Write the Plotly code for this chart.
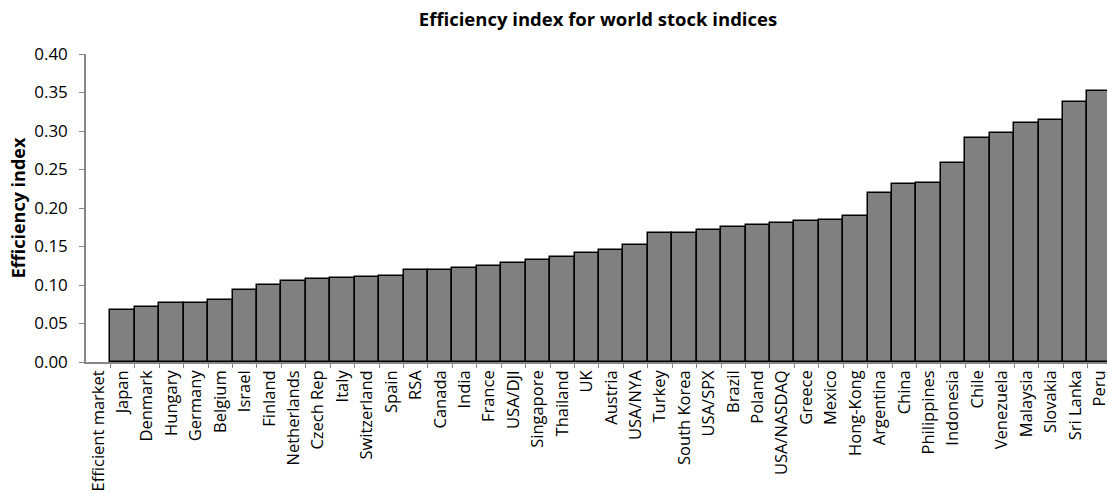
import plotly.graph_objects as go

categories = ["Efficient market", "Japan", "Denmark", "Hungary", "Germany", "Belgium", "Israel",
              "Finland", "Netherlands", "Czech Rep", "Italy", "Switzerland", "Spain", "RSA",
              "Canada", "India", "France", "USA/DJI", "Singapore", "Thailand", "UK", "Austria",
              "USA/NYA", "Turkey", "South Korea", "USA/SPX", "Brazil", "Poland", "USA/NASDAQ",
              "Greece", "Mexico", "Hong-Kong", "Argentina", "China", "Philippines", "Indonesia",
              "Chile", "Venezuela", "Malaysia", "Slovakia", "Sri Lanka", "Peru"]
values = [0.0, 0.067, 0.072, 0.076, 0.076, 0.081, 0.093,
          0.100, 0.105, 0.108, 0.109, 0.110, 0.112, 0.119,
          0.120, 0.122, 0.125, 0.129, 0.132, 0.137, 0.142, 0.145,
          0.152, 0.167, 0.167, 0.171, 0.175, 0.178, 0.181,
          0.183, 0.184, 0.189, 0.220, 0.231, 0.232, 0.258,
          0.291, 0.297, 0.311, 0.314, 0.338, 0.352]
y_ticks = [0.0, 0.05, 0.10, 0.15, 0.20, 0.25, 0.30, 0.35, 0.40]

font_family = "Open Sans, Liberation Sans, sans-serif"

fig = go.Figure(go.Bar(
    x=list(range(len(categories))),
    y=values,
    marker=dict(color="#808080",
                line=dict(color="#000000", width=[0 if v == 0 else 1.5 for v in values])),
    width=1.0,
))

x_range = [-0.5, 41.3]

fig.update_layout(
    width=1110, height=494,
    margin=dict(l=86, r=0, t=54, b=132),
    paper_bgcolor="white", plot_bgcolor="white",
    bargap=0,
    showlegend=False,
    title=dict(text="<b>Efficiency index for world stock indices</b>",
               x=598/1110, xanchor="center", y=1 - 20/494, yanchor="middle",
               font=dict(family=font_family, size=18.5, color="#000000")),
    font=dict(family=font_family, color="#000000"),
)

fig.update_xaxes(
    range=x_range,
    tickmode="array",
    tickvals=list(range(len(categories))),
    ticktext=categories,
    tickangle=-90,
    ticklabeloverflow="allow",
    tickfont=dict(size=16.5, family=font_family, color="#000000"),
    showgrid=False, zeroline=False,
    showline=True, linecolor="#868686", linewidth=1.5,
    ticks="",
)

# boundary ticks for the category axis
fig.update_layout(xaxis2=dict(
    overlaying="x", range=x_range,
    tickmode="array", tickvals=[i - 0.5 for i in range(1, len(categories))],
    showticklabels=False, ticks="outside", ticklen=5, tickcolor="#868686", tickwidth=1,
    showgrid=False, zeroline=False, showline=False, side="bottom", anchor="y",
))
fig.add_trace(go.Scatter(x=[0], y=[0], xaxis="x2", mode="markers",
                         marker=dict(opacity=0), hoverinfo="skip", showlegend=False))

fig.update_yaxes(
    range=[0, 0.4],
    tickmode="array", tickvals=y_ticks,
    ticktext=[f"{v:.2f}" for v in y_ticks],
    tickfont=dict(size=17, family=font_family, color="#000000"),
    ticks="outside", ticklen=5, tickcolor="#868686",
    ticklabelstandoff=8,
    showgrid=False, zeroline=False,
    showline=True, linecolor="#868686", linewidth=1.5,
    title=dict(text="<b>Efficiency index</b>", font=dict(size=18, family=font_family, color="#000000"),
               standoff=4),
)

fig.write_html(
    "out.html",
    config={"displayModeBar": False},
    post_script=("document.body.style.margin='0';"
                 "document.body.style.overflow='hidden';"
                 "document.documentElement.style.overflow='hidden';"),
)
